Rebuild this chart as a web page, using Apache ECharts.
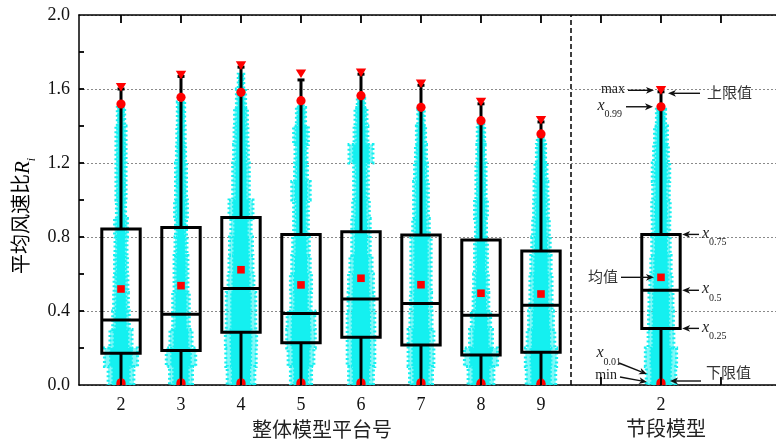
<!DOCTYPE html>
<html>
<head>
<meta charset="utf-8">
<script src="https://cdn.jsdelivr.net/npm/echarts@6/dist/echarts.min.js"></script>
<style>
html,body{margin:0;padding:0;background:#fff;}
#chart{width:776px;height:444px;}
</style>
</head>
<body>
<div id="chart"></div>
<script>
// ---- data -------------------------------------------------------------
// Tick labels of the groups and the slot each group occupies on the x axis
const groupLabels = ['2', '3', '4', '5', '6', '7', '8', '9', '2'];
const groupSlots  = [0, 1, 2, 3, 4, 5, 6, 7, 9];
const tickSlots   = [0, 1, 2, 3, 4, 5, 6, 7, 8, 9, 10];
// y-axis tick marks (labelled every 0.4, minor marks between)
const yTickValues = [0.2, 0.4, 0.6, 0.8, 1.0, 1.2, 1.4, 1.6, 1.8];

// Statistics of the mean wind speed ratio per group
const maxVals    = [1.610, 1.676, 1.727, 1.683, 1.688, 1.629, 1.530, 1.432, 1.593];
const upperVals  = [1.600, 1.668, 1.718, 1.649, 1.680, 1.620, 1.520, 1.422, 1.585];
const p99Vals    = [1.519, 1.555, 1.582, 1.537, 1.564, 1.501, 1.429, 1.357, 1.504];
const q3Vals     = [0.843, 0.852, 0.906, 0.814, 0.829, 0.811, 0.784, 0.724, 0.814];
const medianVals = [0.351, 0.382, 0.521, 0.387, 0.465, 0.441, 0.377, 0.431, 0.512];
const q1Vals     = [0.171, 0.186, 0.285, 0.229, 0.258, 0.216, 0.162, 0.177, 0.306];
const meanVals   = [0.519, 0.537, 0.623, 0.541, 0.577, 0.542, 0.496, 0.492, 0.582];
const p01Vals    = [0.012, 0.012, 0.012, 0.012, 0.012, 0.012, 0.010, 0.010, 0.012];
const minVals    = [0.000, 0.000, 0.000, 0.000, 0.000, 0.000, 0.000, 0.000, 0.000];
const lowerVals  = [0.000, 0.000, 0.000, 0.000, 0.000, 0.000, 0.000, 0.000, 0.000];

// Spread of the raw samples (relative units) in bands of 0.1, from 0 upwards
const cloudTop = [1.50, 1.53, 1.68, 1.52, 1.55, 1.49, 1.42, 1.34, 1.49];
const cloudSpread = [
  [14, 18, 12, 9, 8, 7.5, 7, 6.5, 7, 5, 5.5, 5.5, 5.5, 5.5, 4, 4],
  [12.5, 16, 12, 9, 9, 7.5, 7.5, 6.5, 6, 7, 6, 6, 5, 4.5, 4, 4],
  [15, 16.5, 17, 16, 16, 14, 13, 12.5, 11, 13, 9, 9, 8, 7.5, 7, 5, 3],
  [11.5, 14, 15.5, 15, 11, 11.5, 10, 9, 8, 8, 10, 7, 6.5, 8, 5, 2.5],
  [13.5, 15, 15, 15, 14, 13.5, 12, 10, 10, 9, 8, 8, 13, 7.5, 6.5, 4],
  [12.5, 14, 14, 12, 11.5, 11, 11, 11, 9, 8, 8, 7, 6, 5, 3.5],
  [14, 18, 12.5, 10.5, 8.5, 8, 7, 7, 6, 7, 5.5, 5.5, 4.5, 4, 3],
  [16, 17, 15, 13.5, 12, 12, 11, 10, 9, 8, 7.5, 6.5, 5, 4],
  [16, 17, 14, 13.5, 13, 12, 11, 10, 9.5, 10, 9, 9.5, 8, 7, 5]
];
const bandStep = 0.1;

// ---- drawing ----------------------------------------------------------
const SERIF = "'Liberation Serif', 'Times New Roman', serif";
const CJK = "'Liberation Serif', 'Noto Sans CJK SC', serif";
const cyan = '#14f0f0';
const red = '#ff0000';
const X_MIN = -0.7, X_MAX = 10.917, Y_MIN = 0, Y_MAX = 2;

const groupData = groupSlots.map((s, i) => [s, i]);

function cloudPoints(api, i, slot, factor) {
  const spread = cloudSpread[i];
  const top = cloudTop[i];
  const right = [], left = [];
  for (let b = 0; b < spread.length; b++) {
    const y0 = b * bandStep;
    if (y0 >= top) break;
    const y1 = Math.min((b + 1) * bandStep, top);
    const hw = spread[b] * factor / 60;
    right.push(api.coord([slot + hw, y0]), api.coord([slot + hw, y1]));
    left.unshift(api.coord([slot - hw, y1]), api.coord([slot - hw, y0]));
  }
  return right.concat(left);
}

// outer sparse fringe of the sample cloud, then its dense core
function cloudItem(params, api) {
  const slot = api.value(0);
  const i = api.value(1);
  return {
    type: 'group',
    children: [
      { type: 'polygon', shape: { points: cloudPoints(api, i, slot, 0.92) },
        style: { fill: 'rgba(20,240,240,0.55)', stroke: cyan, lineWidth: 3, lineDash: [2, 2.5] } },
      { type: 'polygon', shape: { points: cloudPoints(api, i, slot, 0.6) },
        style: { fill: cyan, stroke: cyan, lineWidth: 2.5, lineDash: [2, 2] } }
    ]
  };
}

function boxItem(params, api) {
  const slot = api.value(0);
  const i = api.value(1);
  const half = 0.32;
  const pTop = api.coord([slot, upperVals[i]]);
  const pQ3 = api.coord([slot, q3Vals[i]]);
  const pQ1 = api.coord([slot, q1Vals[i]]);
  const pLow = api.coord([slot, lowerVals[i]]);
  const pMed = api.coord([slot, medianVals[i]]);
  const l = api.coord([slot - half, 0])[0];
  const r = api.coord([slot + half, 0])[0];
  const ls = { stroke: '#000', lineWidth: 3, fill: null };
  return {
    type: 'group',
    children: [
      { type: 'line', shape: { x1: pTop[0], y1: pTop[1], x2: pQ3[0], y2: pQ3[1] }, style: ls },
      { type: 'line', shape: { x1: pTop[0] - 3.5, y1: pTop[1], x2: pTop[0] + 3.5, y2: pTop[1] }, style: ls },
      { type: 'line', shape: { x1: pQ1[0], y1: pQ1[1], x2: pLow[0], y2: pLow[1] }, style: ls },
      { type: 'rect', shape: { x: l, y: pQ3[1], width: r - l, height: pQ1[1] - pQ3[1] }, style: ls },
      { type: 'line', shape: { x1: l, y1: pMed[1], x2: r, y2: pMed[1] }, style: ls }
    ]
  };
}

function markerItem(params, api) {
  const slot = api.value(0);
  const i = api.value(1);
  const pMax = api.coord([slot, maxVals[i]]);
  const p99 = api.coord([slot, p99Vals[i]]);
  const pMean = api.coord([slot, meanVals[i]]);
  const p01 = api.coord([slot, p01Vals[i]]);
  const pMin = api.coord([slot, minVals[i]]);
  const fill = { fill: red };
  return {
    type: 'group',
    children: [
      { type: 'circle', shape: { cx: p01[0], cy: p01[1], r: 4.6 }, style: fill },
      { type: 'circle', shape: { cx: pMin[0], cy: pMin[1], r: 4.6 }, style: fill },
      { type: 'rect', shape: { x: pMean[0] - 3.8, y: pMean[1] - 3.8, width: 7.6, height: 7.6 }, style: fill },
      { type: 'circle', shape: { cx: p99[0], cy: p99[1], r: 4.6 }, style: fill },
      { type: 'polygon', shape: { points: [[pMax[0] - 5.2, pMax[1] - 4.2], [pMax[0] + 5.2, pMax[1] - 4.2], [pMax[0], pMax[1] + 4.4]] }, style: fill }
    ]
  };
}

// inward tick marks on the bottom and top frame lines
function xTickItem(params, api) {
  const s = api.value(0);
  const b = api.coord([s, Y_MIN]);
  const t = api.coord([s, Y_MAX]);
  const st = { stroke: '#000', lineWidth: 1.8 };
  return {
    type: 'group',
    children: [
      { type: 'line', shape: { x1: b[0], y1: b[1], x2: b[0], y2: b[1] - 8 }, style: st },
      { type: 'line', shape: { x1: t[0], y1: t[1], x2: t[0], y2: t[1] + 8 }, style: st }
    ]
  };
}

// inward tick marks on the left frame line
function yTickItem(params, api) {
  const p = api.coord([X_MIN, api.value(1)]);
  return { type: 'line', shape: { x1: p[0], y1: p[1], x2: p[0] + 5, y2: p[1] }, style: { stroke: '#000', lineWidth: 1.8 } };
}

function arrow(x1, y1, x2, y2) {
  const ang = Math.atan2(y2 - y1, x2 - x1);
  const len = 8, w = 3.4;
  const bx = x2 - len * Math.cos(ang), by = y2 - len * Math.sin(ang);
  const nx = -Math.sin(ang) * w, ny = Math.cos(ang) * w;
  return [
    { type: 'line', shape: { x1, y1, x2: bx + Math.cos(ang) * 2, y2: by + Math.sin(ang) * 2 }, style: { stroke: '#111', lineWidth: 1.4 } },
    { type: 'polygon', shape: { points: [[x2, y2], [bx + nx, by + ny], [bx + 2.2 * Math.cos(ang), by + 2.2 * Math.sin(ang)], [bx - nx, by - ny]] }, style: { fill: '#111' } }
  ];
}

const subRich = {
  x: { fontFamily: SERIF, fontStyle: 'italic', fontSize: 16, color: '#222', verticalAlign: 'top', lineHeight: 16 },
  s: { fontFamily: SERIF, fontSize: 10, color: '#222', verticalAlign: 'bottom', lineHeight: 22 }
};

function label(text, x, y, align, opts) {
  return {
    type: 'text',
    x, y,
    style: Object.assign({
      text, align, verticalAlign: 'middle',
      fontFamily: SERIF, fontSize: 14, fill: '#222', rich: subRich
    }, opts || {})
  };
}

function annotationItem(params, api) {
  const slot = api.value(0);
  const i = api.value(1);
  const cx = api.coord([slot, 0])[0];
  const y0 = api.coord([slot, 0])[1];
  const yMax = api.coord([slot, maxVals[i]])[1];
  const y99 = api.coord([slot, p99Vals[i]])[1];
  const yQ3 = api.coord([slot, q3Vals[i]])[1];
  const yMed = api.coord([slot, medianVals[i]])[1];
  const yQ1 = api.coord([slot, q1Vals[i]])[1];
  const yMean = api.coord([slot, meanVals[i]])[1];
  const boxR = api.coord([slot + 0.32, 0])[0];
  const cjk = { fontFamily: CJK, fontSize: 15, fill: '#333' };
  const children = [].concat(
    [label('max', cx - 36, yMax - 1, 'right')], arrow(cx - 33, yMax, cx - 7, yMax),
    [label('{x|x}{s|0.99}', cx - 39, y99 + 2, 'right')], arrow(cx - 35, y99, cx - 8, y99),
    [label('上限值', cx + 46, yMax + 4, 'left', cjk)], arrow(cx + 39, yMax + 3, cx + 7, yMax + 3),
    [label('{x|x}{s|0.75}', cx + 41, yQ3 + 2, 'left')], arrow(cx + 38, yQ3, boxR + 2, yQ3),
    [label('均值', cx - 43, yMean + 1, 'right', cjk)], arrow(cx - 40, yMean, cx - 7, yMean),
    [label('{x|x}{s|0.5}', cx + 41, yMed + 2, 'left')], arrow(cx + 38, yMed, boxR + 2, yMed),
    [label('{x|x}{s|0.25}', cx + 41, yQ1 + 2, 'left')], arrow(cx + 38, yQ1, boxR + 2, yQ1),
    [label('{x|x}{s|0.01}', cx - 40, y0 - 29, 'right')], arrow(cx - 42, y0 - 22, cx - 14, y0 - 11),
    [label('min', cx - 44, y0 - 10, 'right')], arrow(cx - 41, y0 - 8, cx - 14, y0 - 3),
    [label('下限值', cx + 45, y0 - 11, 'left', cjk)], arrow(cx + 40, y0 - 4, cx + 9, y0 - 4)
  );
  return { type: 'group', children };
}

const chart = echarts.init(document.getElementById('chart'), null, { renderer: 'canvas' });

const xCommon = {
  type: 'value',
  min: X_MIN,
  max: X_MAX,
  splitLine: { show: false },
  axisLine: { show: true, onZero: false, lineStyle: { color: '#000', width: 1.5 } },
  axisTick: { show: false }
};

chart.setOption({
  animation: false,
  backgroundColor: '#fff',
  grid: { left: 79, right: 0, top: 15, bottom: 59, containLabel: false },
  xAxis: [
    Object.assign({}, xCommon, {
      position: 'bottom',
      axisLabel: {
        customValues: groupSlots,
        margin: 11,
        fontFamily: SERIF, fontSize: 18, color: '#111',
        formatter: v => groupLabels[groupSlots.indexOf(Math.round(v))] || ''
      }
    }),
    Object.assign({}, xCommon, { position: 'top', axisLabel: { show: false } })
  ],
  yAxis: {
    type: 'value',
    position: 'left',
    min: Y_MIN, max: Y_MAX, interval: 0.4,
    axisLine: { show: true, onZero: false, lineStyle: { color: '#000', width: 1.5 } },
    axisTick: { show: false },
    axisLabel: { margin: 9, fontFamily: SERIF, fontSize: 18, color: '#111', formatter: v => v.toFixed(1) },
    splitLine: { show: true, lineStyle: { color: '#8a8a8a', width: 1, type: [2, 2] } }
  },
  graphic: [
    {
      type: 'text', x: 23, y: 216, rotation: Math.PI / 2,
      style: {
        text: '{a|平均风速比}{r|R}{s|i}',
        align: 'center', verticalAlign: 'middle',
        rich: {
          a: { fontFamily: CJK, fontSize: 20, color: '#222', lineHeight: 24 },
          r: { fontFamily: SERIF, fontStyle: 'italic', fontSize: 21, color: '#222', lineHeight: 24 },
          s: { fontFamily: SERIF, fontStyle: 'italic', fontSize: 12, color: '#222', verticalAlign: 'bottom', lineHeight: 30 }
        }
      }
    },
    { type: 'text', x: 322, y: 432, style: { text: '整体模型平台号', align: 'center', verticalAlign: 'middle', fontFamily: CJK, fontSize: 20, fill: '#222' } },
    { type: 'text', x: 666, y: 431, style: { text: '节段模型', align: 'center', verticalAlign: 'middle', fontFamily: CJK, fontSize: 20, fill: '#222' } }
  ],
  series: [
    {
      type: 'custom', name: 'xTicks', clip: false, z: 10, silent: true,
      renderItem: xTickItem, data: tickSlots.map(s => [s, Y_MIN]),
      encode: { x: 0, y: 1 }
    },
    {
      type: 'custom', name: 'yTicks', clip: false, z: 10, silent: true,
      renderItem: yTickItem, data: yTickValues.map(v => [X_MIN, v]),
      encode: { x: 0, y: 1 }
    },
    {
      type: 'custom', name: 'samples', clip: true, z: 2,
      renderItem: cloudItem, data: groupData,
      encode: { x: 0, y: -1 }
    },
    {
      type: 'custom', name: 'box', clip: true, z: 3,
      renderItem: boxItem, data: groupData,
      encode: { x: 0, y: -1 },
      markLine: {
        silent: true, symbol: 'none', label: { show: false },
        lineStyle: { color: '#000', width: 1.5, type: [5, 3] },
        data: [{ xAxis: 7.5 }]
      }
    },
    {
      type: 'custom', name: 'stats', clip: true, z: 4,
      renderItem: markerItem, data: groupData,
      encode: { x: 0, y: -1 }
    },
    {
      type: 'custom', name: 'notes', clip: false, z: 5,
      renderItem: annotationItem,
      data: [groupData[groupData.length - 1]],
      encode: { x: 0, y: -1 }
    }
  ]
});
</script>
</body>
</html>
